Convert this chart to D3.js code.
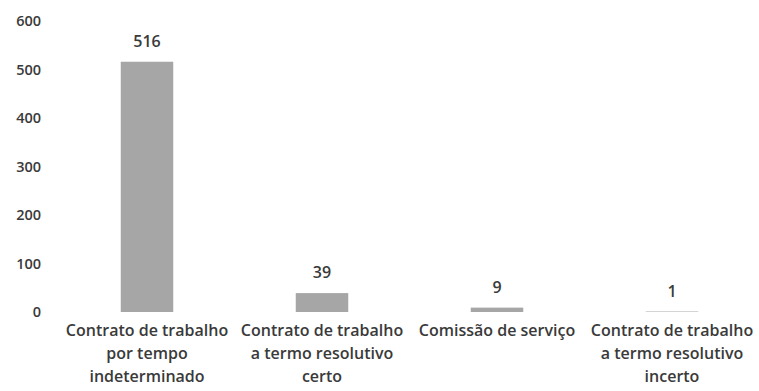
<!DOCTYPE html>
<html><head><meta charset="utf-8">
<script src="https://cdn.jsdelivr.net/npm/d3@7"></script>
<style>body{margin:0;background:#fff}svg{display:block}</style>
</head><body>
<script>
const categories = [
  ["Contrato de trabalho", "por tempo", "indeterminado"],
  ["Contrato de trabalho", "a termo resolutivo", "certo"],
  ["Comissão de serviço"],
  ["Contrato de trabalho", "a termo resolutivo", "incerto"]
];
const values = [516, 39, 9, 1];
const yTicks = [0, 100, 200, 300, 400, 500, 600];

const W = 759, H = 391;
const svg = d3.select("body").append("svg").attr("width", W).attr("height", H);
const font = "'Open Sans', sans-serif";

const x = d3.scaleBand().domain(d3.range(values.length)).range([59.5, 759.5]).paddingInner(0.7).paddingOuter(0.35);
const y = d3.scaleLinear().domain([0, 600]).range([312, 21]);

// y axis labels
const yAxis = d3.axisLeft(y).tickValues(yTicks).tickSize(0).tickPadding(0);
const gy = svg.append("g").attr("transform", "translate(41,0)").call(yAxis);
gy.select(".domain").remove();
gy.selectAll("text").attr("font-family", font).attr("font-size", 14.5).attr("font-weight", 600).attr("fill", "#3a3a3a");

// bars
svg.selectAll("rect.bar").data(values).join("rect")
  .attr("class", "bar")
  .attr("x", (d, i) => x(i))
  .attr("width", x.bandwidth())
  .attr("y", d => y(d))
  .attr("height", d => y(0) - y(d))
  .attr("fill", "#a6a6a6");

// value labels
svg.selectAll("text.val").data(values).join("text")
  .attr("class", "val")
  .attr("x", (d, i) => x(i) + x.bandwidth() / 2)
  .attr("y", d => y(d) - 15)
  .attr("text-anchor", "middle")
  .attr("font-family", font).attr("font-size", 16).attr("font-weight", 600)
  .attr("fill", "#3a3a3a")
  .text(d => d);

// category labels
const gx = svg.append("g");
categories.forEach((lines, i) => {
  const t = gx.append("text")
    .attr("x", x(i) + x.bandwidth() / 2)
    .attr("y", 336)
    .attr("text-anchor", "middle")
    .attr("font-family", font).attr("font-size", 16).attr("font-weight", 600)
    .attr("fill", "#3a3a3a");
  lines.forEach((ln, j) => {
    t.append("tspan").attr("x", x(i) + x.bandwidth() / 2).attr("dy", j === 0 ? 0 : 23).text(ln);
  });
});
</script>
</body></html>
